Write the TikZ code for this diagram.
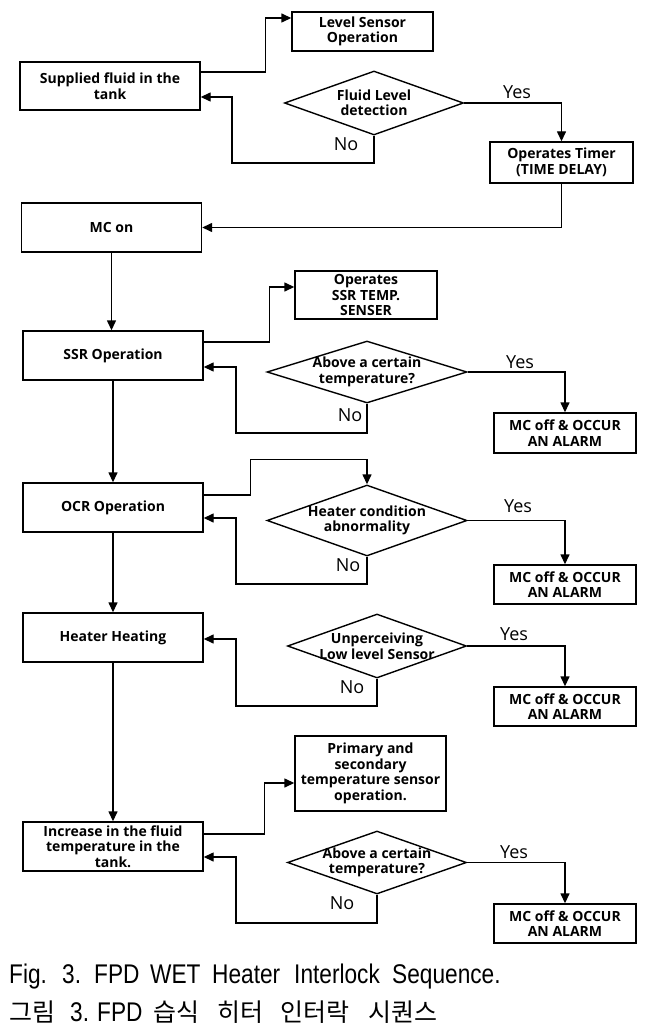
\documentclass[tikz,border=0pt]{standalone}
\usepackage{fontspec}
\setmainfont{Open Sans}
\newfontfamily\capfont{Liberation Sans}
\newfontfamily\krfont{Noto Sans CJK KR}
\usetikzlibrary{arrows.meta,shapes.geometric,calc}
\newcommand{\cw}[2]{\makebox[#1pt][l]{\scalebox{0.84}[1]{#2}}}
\newcommand{\kw}[2]{\makebox[#1pt][l]{#2}}
\begin{document}
\begin{tikzpicture}[x=1pt,y=-1pt,
  box/.style={draw,line width=1.4pt,rectangle,inner sep=1pt,align=center,font=\fontsize{14}{15.5}\selectfont\bfseries},
  dia/.style={draw,line width=1.4pt,diamond,inner sep=0pt},
  dtxt/.style={align=center,font=\fontsize{14}{15.5}\selectfont\bfseries,inner sep=0pt},
  yn/.style={font=\fontsize{18}{18}\selectfont,inner sep=0pt},
  arr/.style={line width=1.4pt,-{Triangle[length=10pt,width=9pt]}},
  capt/.style={anchor=west,inner sep=0pt}]
\useasboundingbox[fill=white] (0,0) rectangle (653,1032);

% boxes
\node[box,minimum width=141,minimum height=39] (lvl) at (362.5,31.5) {Level Sensor\\Operation};
\node[box,minimum width=180,minimum height=48] (sup) at (110,86) {Supplied fluid in the\\tank};
\node[box,minimum width=143,minimum height=41] (tmr) at (561.5,162.5) {Operates Timer\\(TIME DELAY)};
\node[box,minimum width=180,minimum height=49] (mcon) at (111.5,227.5) {MC on};
\node[box,minimum width=180,minimum height=49] (ssr) at (113,355.5) {SSR Operation};
\node[box,minimum width=142,minimum height=48] (ssrt) at (366,295) {Operates\\SSR TEMP.\\SENSER};
\node[box,minimum width=142,minimum height=40] (alm1) at (565,433) {MC off \& OCCUR\\AN ALARM};
\node[box,minimum width=180,minimum height=49] (ocr) at (113,507.5) {OCR Operation};
\node[box,minimum width=142,minimum height=39] (alm2) at (565,584.5) {MC off \& OCCUR\\AN ALARM};
\node[box,minimum width=180,minimum height=49] (heat) at (113,637.5) {Heater Heating};
\node[box,minimum width=142,minimum height=39] (alm3) at (565,706.5) {MC off \& OCCUR\\AN ALARM};
\node[box,minimum width=180,minimum height=49] (inc) at (113,846.5) {Increase in the fluid\\temperature in the\\tank.};
\node[box,minimum width=151,minimum height=75] (prim) at (370.5,773.5) {Primary and\\secondary\\temperature sensor\\operation.};
\node[box,minimum width=142,minimum height=39] (alm4) at (565,923.5) {MC off \& OCCUR\\AN ALARM};

% diamonds
\node[dia,minimum width=179,minimum height=64] (d1) at (374,103) {};
\node[dtxt] at (d1) {Fluid Level\\detection};
\node[dia,minimum width=200,minimum height=62] (d2) at (367,372) {};
\node[dtxt] at (d2) {Above a certain\\temperature?};
\node[dia,minimum width=200,minimum height=71] (d3) at (367,520.5) {};
\node[dtxt] at (d3) {Heater condition\\abnormality};
\node[dia,minimum width=179,minimum height=64] (d4) at (377,646) {};
\node[dtxt] at (d4) {Unperceiving\\Low level Sensor};
\node[dia,minimum width=179,minimum height=63] (d5) at (377,862.5) {};
\node[dtxt] at (d5) {Above a certain\\temperature?};

% connectors
\draw[arr] ([yshift=14pt]sup.east) -- ++(65,0) |- ([yshift=13.5pt]lvl.west);
\draw[arr] (d1.east) -| (tmr.north);
\draw[arr] (d1.south) |- (232,163) |- ([yshift=-11pt]sup.east);
\draw[arr] (tmr.south) |- (mcon.east);
\draw[arr] (mcon.south) -- (mcon.south |- ssr.north);

\draw[arr] ([yshift=13.5pt]ssr.east) -- ++(66,0) |- ([yshift=8pt]ssrt.west);
\draw[arr] (d2.east) -| (alm1.north);
\draw[arr] (d2.south) |- (236,433) |- ([yshift=-11.5pt]ssr.east);
\draw[arr] (ssr.south) -- (ssr.south |- ocr.north);

\draw[arr] ([yshift=12.5pt]ocr.east) -- ++(47,0) |- ([yshift=25pt]d3.north) -- (d3.north);
\draw[arr] (d3.east) -| (alm2.north);
\draw[arr] (d3.south) |- (236,584) |- ([yshift=-10.5pt]ocr.east);
\draw[arr] (ocr.south) -- (ocr.south |- heat.north);

\draw[arr] (d4.east) -| (alm3.north);
\draw[arr] (d4.south) |- (236,706) |- ([yshift=-1.5pt]heat.east);
\draw[arr] (heat.south) -- (heat.south |- inc.north);

\draw[arr] ([yshift=12.5pt]inc.east) -- ++(61,0) |- ([yshift=-9.5pt]prim.west);
\draw[arr] (d5.east) -| (alm4.north);
\draw[arr] (d5.south) |- (236,923) |- ([yshift=-10.5pt]inc.east);

% Yes / No labels
\node[yn] (y1) at (517,92) {Yes};
\node[yn] (n1) at (346,144) {No};
\node[yn] (y2) at (520,362) {Yes};
\node[yn] (n2) at (350,415) {No};
\node[yn] (y3) at (518,506) {Yes};
\node[yn] (n3) at (348,565) {No};
\node[yn] (y4) at (514,634) {Yes};
\node[yn] (n4) at (352,687) {No};
\node[yn] (y5) at (514,852) {Yes};
\node[yn] (n5) at (342,903) {No};

% caption
\node[capt] (c1) at (9,977) {\capfont\fontsize{27}{27}\selectfont%
  \cw{53}{Fig.}\cw{32}{3.}\cw{56}{FPD}\cw{62}{WET}\cw{82}{Heater}\cw{98}{Interlock}\cw{110}{Sequence.}};
\node[capt] (c2) at (9,1012) {\fontsize{25}{25}\selectfont%
  \kw{61}{\krfont 그림}\kw{27}{\capfont\fontsize{27}{27}\selectfont\scalebox{0.84}[1]{3.}}\kw{56}{\capfont\fontsize{27}{27}\selectfont\scalebox{0.84}[1]{FPD}}\kw{64}{\krfont 습식}\kw{63}{\krfont 히터}\kw{88}{\krfont 인터락}\kw{70}{\krfont 시퀀스}};
\end{tikzpicture}
\end{document}
